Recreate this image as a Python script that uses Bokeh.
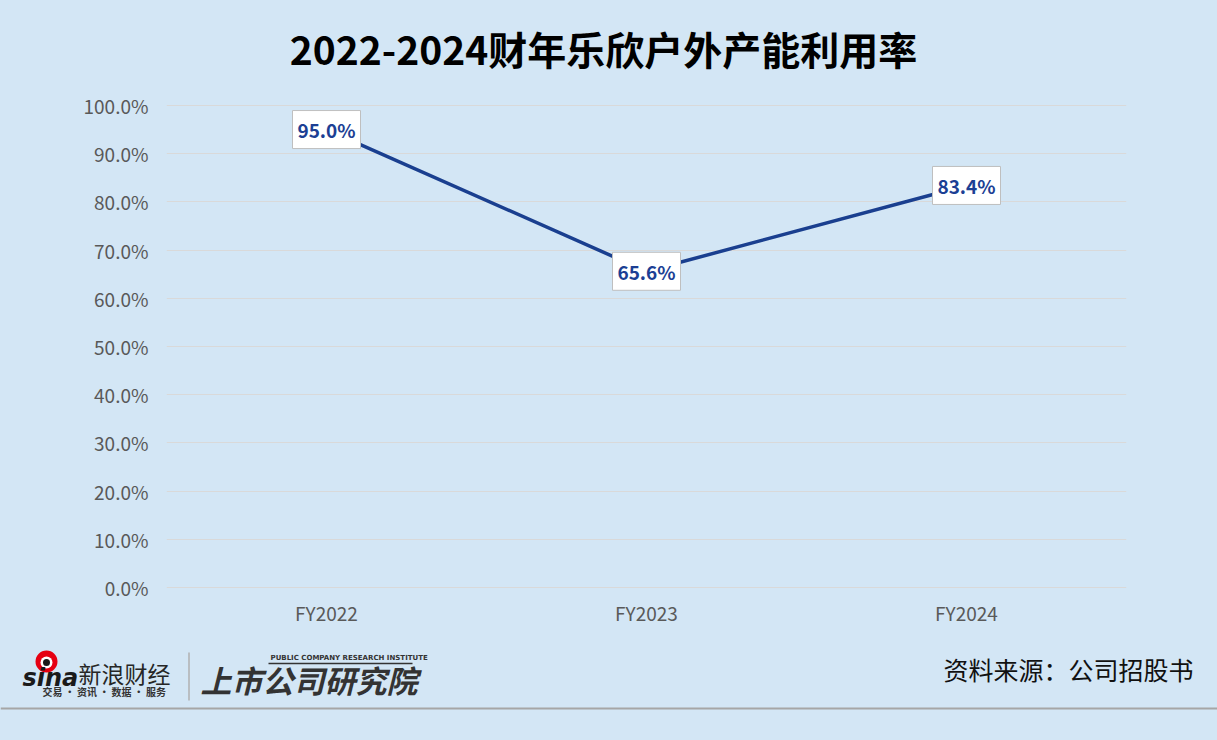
from bokeh.plotting import figure
from bokeh.models import ColumnDataSource, Range1d, FactorRange, FixedTicker, NumeralTickFormatter
from bokeh.core.properties import value
from bokeh.embed import file_html
from bokeh.resources import INLINE

BG = "#d3e6f5"
FONT = "Noto Sans CJK SC"
LINE_COLOR = "#1a3f8f"
TEXT_BLUE = "#1c3f94"
W = 1217

categories = ["FY2022", "FY2023", "FY2024"]
utilization = [0.950, 0.656, 0.834]
point_labels = ["95.0%", "65.6%", "83.4%"]
y_ticks = [0.0, 0.1, 0.2, 0.3, 0.4, 0.5, 0.6, 0.7, 0.8, 0.9, 1.0]
title_text = "2022-2024财年乐欣户外产能利用率"
source_text = "资料来源：公司招股书"


def blank(height, y0, y1):
    f = figure(width=W, height=height, x_range=Range1d(0, W), y_range=Range1d(y1, y0),
               x_axis_type=None, y_axis_type=None, output_backend="svg", toolbar_location=None,
               min_border=0, background_fill_color=None, border_fill_color=BG, outline_line_color=None,
               styles={"background-color": BG})
    f.xgrid.visible = False
    f.ygrid.visible = False
    f.quad(left=[-20], right=[W + 20], bottom=[y1 + 20], top=[y0 - 20], fill_color=BG, line_color=None)
    return f


# ---------- header ----------
head = blank(80, 0, 80)
head.text(x=[603], y=[47], text=[title_text], text_align="center", text_baseline="middle",
          text_font=value(FONT), text_font_style="bold", text_font_size="39px", text_color="#000000")

# ---------- main chart ----------
src = ColumnDataSource(dict(x=categories, y=utilization, label=point_labels))

p = figure(width=W, height=560, x_range=FactorRange(*categories), y_range=Range1d(-0.004, 1.004),
           output_backend="svg", toolbar_location=None,
           min_border_left=166, min_border_right=91, min_border_top=23, min_border_bottom=51,
           background_fill_color=BG, border_fill_color=BG, outline_line_color=None,
           styles={"background-color": BG})

p.line(x="x", y="y", source=src, line_color=LINE_COLOR, line_width=3.5)
p.rect(x="x", y="y", width=68, height=38, width_units="screen", height_units="screen",
       source=src, fill_color="white", line_color="#bfbfbf", line_width=1)
p.text(x="x", y="y", text="label", source=src, text_align="center", text_baseline="middle",
       text_font=value(FONT), text_font_style="bold", text_font_size="19px", text_color=TEXT_BLUE)

p.yaxis.ticker = FixedTicker(ticks=y_ticks)
p.yaxis.formatter = NumeralTickFormatter(format="0.0%")
for ax in (p.xaxis[0], p.yaxis[0]):
    ax.axis_line_color = None
    ax.major_tick_line_color = None
    ax.minor_tick_line_color = None
    ax.major_tick_out = 0
    ax.major_tick_in = 0
    ax.minor_tick_out = 0
    ax.major_label_text_font = FONT
    ax.major_label_text_font_size = "19px"
    ax.major_label_text_color = "#595959"
p.yaxis.major_label_standoff = 18
p.xaxis.major_label_standoff = 9
p.xgrid.grid_line_color = None
p.ygrid.grid_line_color = "#d9d9d9"
p.ygrid.grid_line_width = 1

# ---------- footer ----------
foot = blank(100, 640, 740)
foot.segment(x0=[0], y0=[708], x1=[W], y1=[708], line_color="#a6a6a6", line_width=2)
foot.segment(x0=[188.5], y0=[652], x1=[188.5], y1=[700], line_color="#b0b0b0", line_width=1.5)
# sina eye logo (approximation)
foot.scatter(x=[46], y=[661], size=22, marker="circle", fill_color="#e60012", line_color=None)
foot.scatter(x=[46], y=[662], size=12, marker="circle", fill_color="white", line_color=None)
foot.scatter(x=[46], y=[662], size=7, marker="circle", fill_color="#1a1a1a", line_color=None)
foot.text(x=[22], y=[677], text=["sina"], text_align="left", text_baseline="middle",
          text_font=value("DejaVu Sans"), text_font_style="bold italic", text_font_size="24px",
          text_color="#1a1a1a")
foot.text(x=[78], y=[672], text=["新浪财经"], text_align="left", text_baseline="middle",
          text_font=value(FONT), text_font_size="23px", text_color="#262626")
foot.text(x=[42], y=[691], text=["交易 · 资讯 · 数据 · 服务"], text_align="left", text_baseline="middle",
          text_font=value(FONT), text_font_style="bold", text_font_size="10px", text_color="#333333")
# research institute logo (approximation)
foot.text(x=[200], y=[679], text=["上市公司研究院"], text_align="left", text_baseline="middle",
          text_font=value(FONT), text_font_style="bold italic", text_font_size="31px", text_color="#333333")
foot.text(x=[270], y=[657], text=["PUBLIC COMPANY RESEARCH INSTITUTE"], text_align="left",
          text_baseline="middle", text_font=value("DejaVu Sans"), text_font_style="bold",
          text_font_size="7px", text_color="#333333")
foot.segment(x0=[268], y0=[663], x1=[412], y1=[663], line_color="#333333", line_width=1.5)
# source note
foot.text(x=[1193], y=[668], text=[source_text], text_align="right", text_baseline="middle",
          text_font=value(FONT), text_font_size="25px", text_color="#111111")

open("out.html", "w").write(file_html([head, p, foot], INLINE))
